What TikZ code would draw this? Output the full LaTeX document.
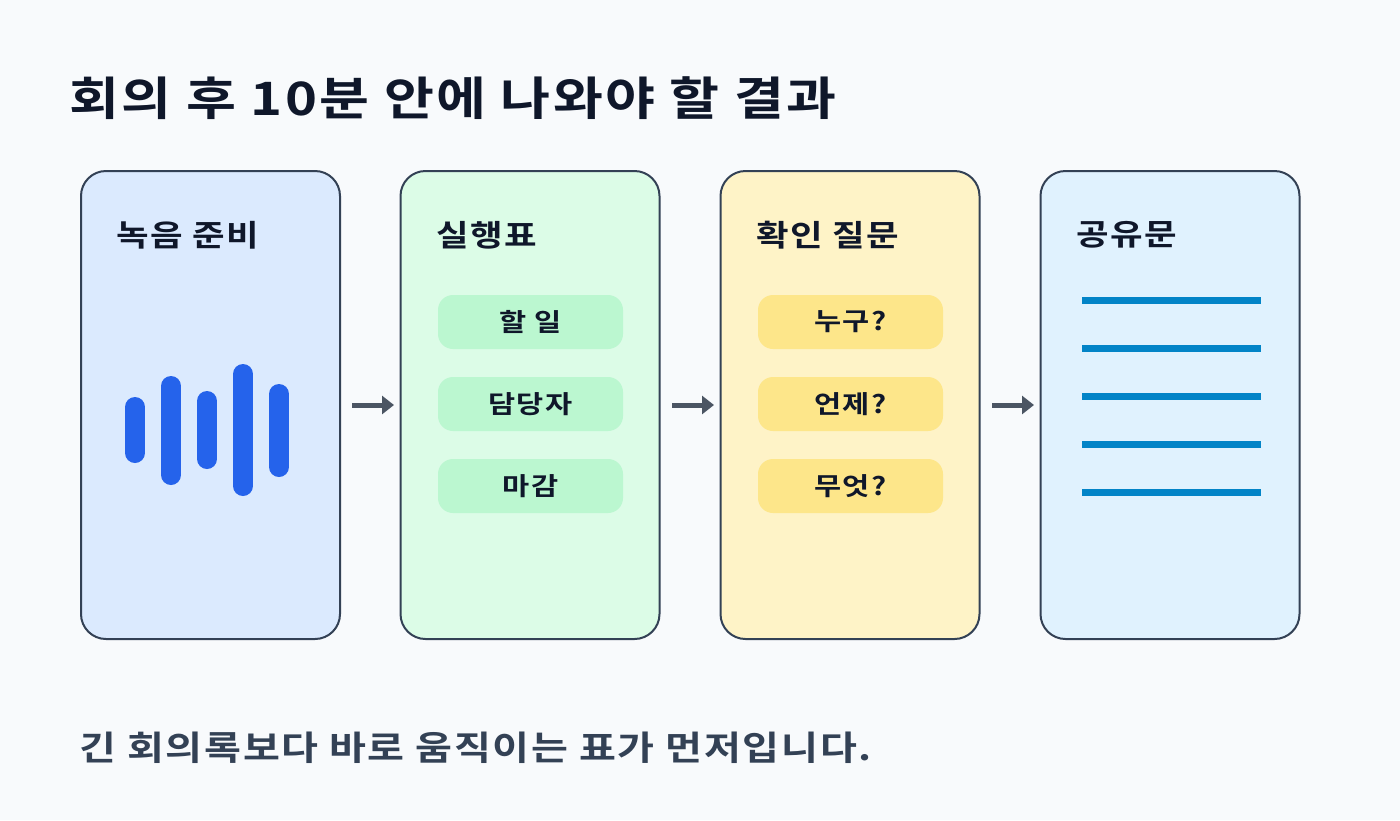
\documentclass[tikz,border=0pt]{standalone}
\usepackage{fontspec}
\setmainfont{Noto Sans CJK KR}[BoldFont={* Bold},FakeStretch=1.18,LetterSpace=5]
\usetikzlibrary{arrows.meta}
\definecolor{bg}{HTML}{F8FAFC}
\definecolor{ink}{HTML}{0F172A}
\definecolor{slate}{HTML}{334155}
\definecolor{pA}{HTML}{DBEAFE}
\definecolor{pB}{HTML}{DCFCE7}
\definecolor{pC}{HTML}{FEF3C7}
\definecolor{pD}{HTML}{E0F2FE}
\definecolor{gpill}{HTML}{BBF7D0}
\definecolor{ypill}{HTML}{FDE68A}
\definecolor{wave}{HTML}{2563EB}
\definecolor{lineblue}{HTML}{0284C7}
\definecolor{arr}{HTML}{4B5563}
\tikzset{
 panel/.style={draw=slate,line width=2pt,rounded corners=25pt,minimum width=259pt,minimum height=468pt,inner sep=0pt},
 ptitle/.style={anchor=west,font=\bfseries\fontsize{30}{30}\selectfont,text=ink},
 pill/.style={rounded corners=15pt,minimum width=185pt,minimum height=54pt,inner sep=0pt,font=\bfseries\fontsize{25}{25}\selectfont,text=ink},
 conn/.style={draw=arr,line width=5pt,-{Triangle[length=12pt,width=18pt]}},
 bar/.style={draw=wave,line width=20pt,line cap=round},
 txtline/.style={draw=lineblue,line width=7pt}
}
\begin{document}
\begin{tikzpicture}[x=1pt,y=-1pt]
\fill[bg] (0,0) rectangle (1400,820);
\useasboundingbox (0,0) rectangle (1400,820);
\node[anchor=west,font=\bfseries\fontsize{46}{46}\selectfont,text=ink] (title) at (66,98) {회의 후 10분 안에 나와야 할 결과};
\node[panel,fill=pA] (p1) at (210.5,405) {};
\node[panel,fill=pB] (p2) at (530,405) {};
\node[panel,fill=pC] (p3) at (850,405) {};
\node[panel,fill=pD] (p4) at (1170,405) {};
\node[ptitle] (t1) at (113,235) {녹음 준비};
\node[ptitle] (t2) at (433,235) {실행표};
\node[ptitle] (t3) at (753,235) {확인 질문};
\node[ptitle] (t4) at (1073,235) {공유문};
\draw[bar] (135,407)--(135,453);
\draw[bar] (171,386)--(171,475);
\draw[bar] (207,401)--(207,459);
\draw[bar] (243,374)--(243,486);
\draw[bar] (279,394)--(279,467);
\node[pill,fill=gpill] (g1) at (530.5,322) {할 일};
\node[pill,fill=gpill] (g2) at (530.5,404) {담당자};
\node[pill,fill=gpill] (g3) at (530.5,486) {마감};
\node[pill,fill=ypill] (y1) at (850.5,322) {누구?};
\node[pill,fill=ypill] (y2) at (850.5,404) {언제?};
\node[pill,fill=ypill] (y3) at (850.5,486) {무엇?};
\foreach \yy in {300,348,396,444,492} \draw[txtline] (1082,\yy)--(1261,\yy);
\coordinate (a1s) at (352,405); \coordinate (a1e) at (394,405);
\coordinate (a2s) at (672,405); \coordinate (a2e) at (714,405);
\coordinate (a3s) at (992,405); \coordinate (a3e) at (1034,405);
\draw[conn] (a1s)--(a1e);
\draw[conn] (a2s)--(a2e);
\draw[conn] (a3s)--(a3e);
\node[anchor=west,font=\bfseries\fontsize{34}{34}\selectfont,text=slate] (foot) at (76,748) {긴 회의록보다 바로 움직이는 표가 먼저입니다.};
\end{tikzpicture}
\end{document}
